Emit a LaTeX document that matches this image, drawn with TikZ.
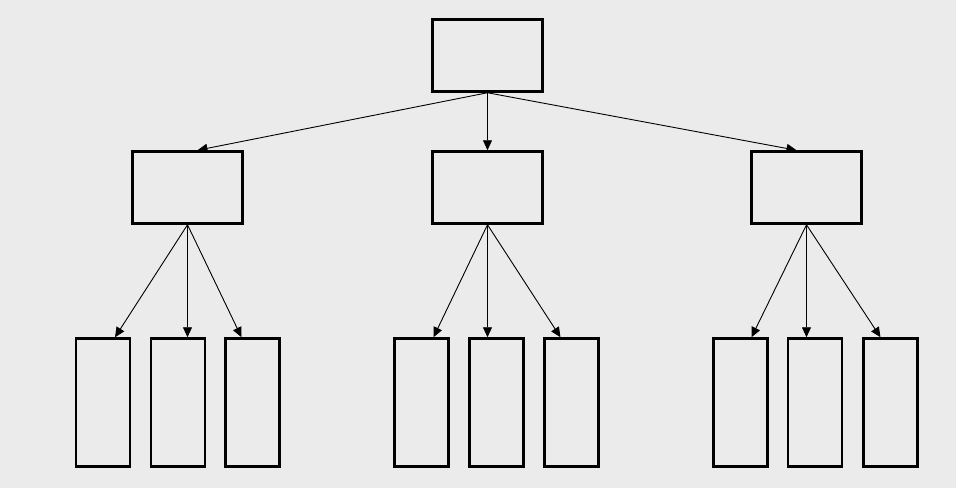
\documentclass[tikz,border=0pt]{standalone}
\usepackage{tikz}
\usetikzlibrary{arrows.meta}
\definecolor{bggray}{RGB}{235,235,235}
\tikzset{
    box/.style={
        rectangle, draw, line width=2.5pt, inner sep=0pt,
        minimum width=110pt, minimum height=72pt
    },
    leaf/.style={
        rectangle, draw, line width=2.5pt, inner sep=0pt,
        minimum width=54pt, minimum height=128pt
    },
    link/.style={draw,-{Triangle[length=10pt,width=9pt]},line width=0.9pt}
}
\begin{document}
\begin{tikzpicture}[x=1pt, y=-1pt]
        \fill [bggray] (0,0) rectangle (956,488);
        % root and second level
        \node [box] (root) at (487.5,55.5) {};
        \node [box] (midL) at (187.5,187.5) {};
        \node [box] (midC) at (487.5,187.5) {};
        \node [box] (midR) at (806.5,187.5) {};
        % leaves
        \node [leaf] (leafA) at (103,402.5) {};
        \node [leaf] (leafB) at (178,402.5) {};
        \node [leaf] (leafC) at (252.5,402.5) {};
        \node [leaf] (leafD) at (421.5,402.5) {};
        \node [leaf] (leafE) at (496.5,402.5) {};
        \node [leaf] (leafF) at (571.5,402.5) {};
        \node [leaf] (leafG) at (740.5,402.5) {};
        \node [leaf] (leafH) at (815,402.5) {};
        \node [leaf] (leafI) at (890.5,402.5) {};

        \draw [link] (root.south) -- ([xshift=10pt]midL.north);
        \draw [link] (root.south) -- (midC.north);
        \draw [link] (root.south) -- ([xshift=-10pt]midR.north);

        \draw [link] (midL.south) -- ([xshift=12pt]leafA.north);
        \draw [link] (midL.south) -- ([xshift=9.5pt]leafB.north);
        \draw [link] (midL.south) -- ([xshift=-11pt]leafC.north);

        \draw [link] (midC.south) -- ([xshift=12pt]leafD.north);
        \draw [link] (midC.south) -- ([xshift=-9pt]leafE.north);
        \draw [link] (midC.south) -- ([xshift=-11pt]leafF.north);

        \draw [link] (midR.south) -- ([xshift=11pt]leafG.north);
        \draw [link] (midR.south) -- ([xshift=-8.5pt]leafH.north);
        \draw [link] (midR.south) -- ([xshift=-10pt]leafI.north);
    \end{tikzpicture}
\end{document}
